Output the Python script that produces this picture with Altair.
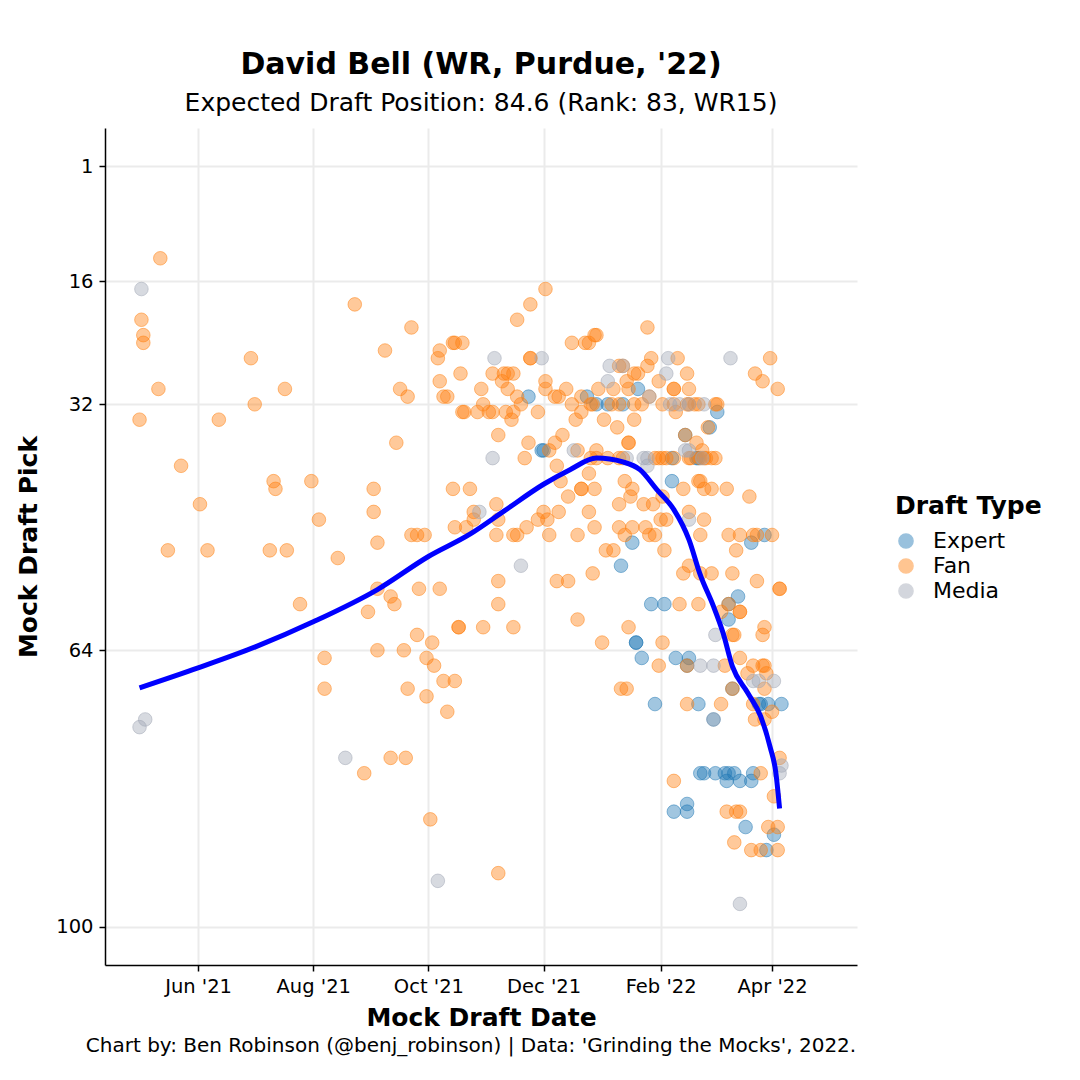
import altair as alt
import pandas as pd

TITLE = "David Bell (WR, Purdue, '22)"
SUBTITLE = "Expected Draft Position: 84.6 (Rank: 83, WR15)"
CAPTION = "Chart by: Ben Robinson (@benj_robinson) | Data: 'Grinding the Mocks', 2022."

type_order = ["Expert", "Fan", "Media"]
type_colors = ["#1f77b4", "#ff7f0e", "#a0a6b4"]

expert_dates = ["2021-11-23", "2021-12-24", "2021-12-29", "2022-01-04", "2022-01-12", "2021-11-30", "2021-12-01",
                "2022-01-11", "2022-01-20", "2022-02-14", "2022-02-07", "2022-02-21", "2022-02-07", "2022-01-17",
                "2022-01-27", "2022-02-03", "2022-01-19", "2022-01-19", "2022-01-22", "2022-02-09", "2022-02-16",
                "2022-02-15", "2022-01-29", "2022-02-21", "2022-02-15", "2022-02-15", "2022-02-08", "2022-03-03",
                "2022-02-27", "2022-02-20", "2022-03-28", "2022-03-21", "2022-03-14", "2022-03-09", "2022-03-09",
                "2022-03-25", "2022-03-26", "2022-03-30", "2022-04-06", "2022-03-01", "2022-02-22", "2022-02-24",
                "2022-03-02", "2022-03-07", "2022-03-09", "2022-03-12", "2022-03-22", "2022-03-08", "2022-03-15",
                "2022-03-21", "2022-03-18", "2022-04-02", "2022-03-29", "2022-03-11"]
expert_picks = [31, 31, 32, 32, 32, 38, 38,
                53, 30, 36, 39, 39, 42, 50,
                58, 58, 63, 63, 65, 65, 65,
                66, 71, 71, 84, 85, 85, 33,
                35, 39, 49, 50, 57, 58, 60,
                71, 71, 71, 71, 73, 80, 80,
                80, 80, 80, 80, 80, 81, 81,
                81, 87, 88, 90, 69]

fan_dates = [
    "2021-05-12", "2021-05-02", "2021-05-03", "2021-05-03", "2021-06-29", "2021-05-11", "2021-07-17", "2021-07-01",
    "2021-05-01", "2021-06-12", "2021-05-23", "2021-07-11", "2021-07-12", "2021-07-31", "2021-06-02", "2021-08-04",
    "2021-05-16", "2021-06-06", "2021-07-09", "2021-07-18", "2021-07-25", "2021-08-07", "2021-08-07",
    "2021-08-23", "2021-09-22", "2021-09-08", "2021-09-16", "2021-09-20", "2021-09-14", "2021-09-02", "2021-09-02",
    "2021-09-04", "2021-08-14", "2021-09-22", "2021-09-25", "2021-09-29", "2021-10-07", "2021-10-06", "2021-10-14",
    "2021-10-15", "2021-10-19", "2021-10-18", "2021-11-04", "2021-10-07", "2021-10-09", "2021-10-11", "2021-10-29",
    "2021-10-30", "2021-10-19", "2021-10-20", "2021-10-27", "2021-11-02", "2021-11-04", "2021-10-14", "2021-10-23",
    "2021-10-25", "2021-10-15", "2021-10-21", "2021-10-25", "2021-11-06", "2021-11-06", "2021-11-07",
    "2021-09-04", "2021-09-11", "2021-09-13", "2021-08-30", "2021-09-26", "2021-10-07", "2021-11-07", "2021-11-07",
    "2021-10-17", "2021-10-17", "2021-10-30", "2021-09-25", "2021-10-03", "2021-09-04", "2021-09-18", "2021-09-30",
    "2021-10-04", "2021-10-09", "2021-10-15", "2021-09-20", "2021-09-30", "2021-10-11", "2021-09-11", "2021-09-19",
    "2021-08-28", "2021-10-02", "2021-11-07",
    "2021-12-02", "2021-11-24", "2021-11-17", "2021-12-16", "2021-12-23", "2021-12-25", "2021-12-29", "2021-12-28",
    "2021-11-24", "2021-11-24", "2022-01-10", "2021-11-10", "2021-11-12", "2021-11-15", "2021-11-09", "2021-11-12",
    "2021-12-02", "2021-12-02", "2021-12-13", "2021-12-30", "2022-01-07", "2021-11-17", "2021-12-07", "2021-12-09",
    "2021-12-21", "2021-11-19", "2021-12-16", "2021-12-27", "2022-01-06", "2021-11-11", "2021-11-15", "2021-11-28",
    "2021-12-21", "2021-11-14", "2021-12-18", "2022-01-02", "2022-01-09", "2021-12-11", "2021-11-23", "2021-12-07",
    "2021-12-04", "2021-12-19", "2021-12-29", "2022-01-04", "2021-11-21", "2021-12-08", "2021-12-25", "2021-12-10",
    "2021-11-07", "2021-11-15", "2021-11-17", "2021-11-22", "2021-11-28", "2021-12-01", "2021-12-03", "2021-12-04",
    "2021-12-09", "2021-12-14", "2021-12-21", "2021-12-21", "2021-12-28", "2021-12-25", "2021-12-28", "2021-12-19",
    "2022-01-03", "2022-01-07", "2021-12-08", "2021-12-14", "2021-12-27", "2021-11-15", "2021-12-19", "2022-01-01",
    "2022-01-11",
    "2022-01-25", "2022-01-12", "2022-01-27", "2022-01-25", "2022-02-10", "2022-01-18", "2022-01-20", "2022-02-15",
    "2022-01-14", "2022-01-15", "2022-01-31", "2022-02-08", "2022-02-08", "2022-02-16", "2022-01-26",
    "2021-12-26", "2022-01-10", "2022-01-18", "2022-01-22", "2022-02-02", "2022-02-08", "2022-02-15", "2022-02-16",
    "2022-02-19", "2022-02-21",
    "2022-02-09", "2022-01-18", "2022-01-15", "2022-01-15", "2022-02-14", "2022-02-20",
    "2021-12-26", "2021-12-29", "2022-01-10", "2022-01-12", "2022-01-29", "2022-01-31", "2022-02-02", "2022-02-04",
    "2022-02-08", "2022-02-16", "2022-02-17",
    "2022-01-13", "2022-01-17", "2022-02-13", "2022-02-21", "2022-01-16", "2022-01-10", "2022-01-23", "2022-01-28",
    "2022-02-02", "2022-02-16", "2022-02-01", "2022-02-04", "2022-01-10", "2022-01-17", "2022-01-24", "2022-01-26",
    "2022-01-29", "2022-01-13", "2022-02-03",
    "2022-02-16", "2022-02-13", "2022-02-22", "2022-02-11", "2022-02-21", "2022-01-15", "2022-02-02", "2022-01-31",
    "2022-02-15", "2022-01-14", "2022-02-15", "2022-02-08",
    "2022-03-31", "2022-03-23", "2022-03-27", "2022-04-04", "2022-03-02", "2022-03-03", "2022-02-26", "2022-02-23",
    "2022-02-22", "2022-02-24", "2022-02-25", "2022-02-28", "2022-03-02", "2022-02-22", "2022-02-24", "2022-02-28",
    "2022-03-08", "2022-03-20", "2022-02-24", "2022-02-22", "2022-03-09", "2022-03-15", "2022-03-22", "2022-03-24",
    "2022-04-01", "2022-03-13",
    "2022-02-28", "2022-03-11", "2022-03-24", "2022-04-05", "2022-04-05", "2022-03-05", "2022-03-09", "2022-03-15",
    "2022-03-15", "2022-03-11", "2022-03-12", "2022-03-28", "2022-03-27", "2022-03-07", "2022-03-15", "2022-03-22",
    "2022-03-27", "2022-03-28", "2022-03-19", "2022-03-29", "2022-03-28", "2022-03-11", "2022-03-05", "2022-03-22",
    "2022-04-01", "2022-03-23", "2022-03-28", "2022-04-05", "2022-03-26", "2022-04-02", "2022-03-08", "2022-03-13",
    "2022-03-15", "2022-03-30", "2022-04-04", "2022-03-12", "2022-03-21", "2022-03-26", "2022-04-04",
]
fan_picks = [
    13, 21, 23, 24, 26, 30, 30, 32,
    34, 34, 40, 42, 43, 42, 45, 47,
    51, 51, 51, 51, 58, 65, 69,
    19, 22, 25, 30, 31, 37, 43, 46,
    50, 52, 49, 49, 49, 25, 26, 24,
    24, 24, 28, 28, 29, 31, 31, 30,
    32, 33, 33, 33, 33, 33, 43, 43,
    46, 48, 48, 47, 45, 49, 36,
    56, 57, 58, 59, 56, 56, 55, 58,
    61, 61, 61, 62, 63, 64, 64, 65,
    66, 68, 68, 69, 70, 72, 78, 78,
    80, 86, 93,
    17, 19, 21, 24, 24, 24, 23, 23,
    26, 26, 27, 28, 28, 28, 29, 30,
    29, 30, 30, 30, 30, 31, 31, 31,
    31, 32, 32, 32, 32, 33, 33, 33,
    33, 34, 34, 34, 35, 36, 37, 37,
    38, 38, 38, 39, 39, 40, 41, 42,
    47, 49, 49, 48, 47, 46, 47, 49,
    46, 44, 43, 43, 43, 46, 48, 49,
    51, 51, 55, 55, 54, 61, 60, 63,
    69,
    22, 27, 26, 27, 26, 28, 28, 28,
    29, 30, 29, 30, 30, 30, 31,
    32, 32, 32, 32, 32, 32, 32, 32,
    32, 32,
    33, 34, 37, 37, 36, 37,
    39, 39, 39, 39, 39, 39, 39, 39,
    39, 39, 39,
    42, 43, 43, 42, 44, 45, 45, 45,
    44, 46, 47, 47, 48, 48, 48, 49,
    49, 49, 51,
    53, 54, 54, 58, 58, 61, 63, 66,
    66, 69, 71, 81,
    26, 28, 29, 30, 32, 32, 35, 38,
    39, 39, 39, 39, 39, 42, 43, 43,
    43, 44, 47, 49, 49, 49, 49, 49,
    49, 51,
    54, 54, 55, 56, 56, 59, 58, 59,
    59, 62, 62, 61, 62, 66, 65, 66,
    66, 66, 67, 67, 69, 69, 71, 71,
    72, 73, 73, 78, 80, 83, 85, 85,
    85, 87, 87, 89, 90, 90, 90,
]

media_dates = ["2021-05-02", "2021-05-04", "2021-05-01", "2021-11-05", "2021-11-04", "2021-10-28", "2021-08-18",
               "2021-10-06", "2021-11-30", "2022-01-05", "2022-01-04", "2021-12-17", "2021-11-19", "2022-01-12",
               "2022-02-05", "2022-02-04", "2022-01-26", "2022-02-06", "2022-02-11", "2022-01-14", "2022-01-23",
               "2022-01-25", "2022-02-23", "2022-01-25", "2022-02-16", "2022-03-10", "2022-02-24", "2022-02-14",
               "2022-02-16", "2022-03-02", "2022-02-22", "2022-03-01", "2022-03-22", "2022-03-25", "2022-04-02",
               "2022-04-06", "2022-04-05", "2022-03-15", "2022-02-16", "2022-03-01"]
media_picks = [17, 73, 74, 26, 39, 46, 78,
               94, 26, 27, 29, 38, 53, 27,
               26, 28, 31, 32, 32, 39, 39,
               39, 39, 40, 47, 26, 32, 38,
               38, 62, 66, 66, 68, 68, 68,
               79, 80, 97, 32, 73]

smooth_dates = ["2021-05-01", "2021-06-01", "2021-07-02", "2021-08-01", "2021-09-04", "2021-10-01", "2021-10-23",
                "2021-11-10", "2021-12-01", "2021-12-15", "2021-12-29", "2022-01-12", "2022-01-21", "2022-01-30",
                "2022-02-08", "2022-02-16", "2022-02-22", "2022-03-01", "2022-03-06", "2022-03-11", "2022-03-19",
                "2022-03-26", "2022-03-31", "2022-04-03", "2022-04-05"]
smooth_picks = [68.9, 66.3, 63.5, 60.3, 56.1, 51.8, 48.9,
                45.9, 42.4, 40.5, 39.0, 39.5, 40.5, 43.1,
                45.7, 49.6, 54.2, 58.3, 61.7, 66.1, 69.5,
                72.6, 76.6, 79.9, 84.6]

tick_dates = [(2021, 6), (2021, 8), (2021, 10), (2021, 12), (2022, 2), (2022, 4)]
pick_ticks = [1, 16, 32, 64, 100]

rows = []
for t, ds, ps in [("Expert", expert_dates, expert_picks), ("Fan", fan_dates, fan_picks),
                  ("Media", media_dates, media_picks)]:
    for d, p in zip(ds, ps):
        rows.append({"date": d, "pick": p, "type": t})
points_df = pd.DataFrame(rows)
smooth_df = pd.DataFrame({"date": smooth_dates, "pick": smooth_picks})
caption_df = pd.DataFrame({"t": [CAPTION]})

W, H = 752, 837

x_scale = alt.Scale(type="utc",
                    domain=[alt.DateTime(year=2021, month=4, date=12, hours=17, utc=True),
                            alt.DateTime(year=2022, month=5, date=16, utc=True)])
y_scale = alt.Scale(domain=[-3.95, 104.95], reverse=True, nice=False, zero=False)

x_axis = alt.Axis(values=[alt.DateTime(year=y, month=m, date=1, utc=True) for y, m in tick_dates],
                  labelExpr="utcFormat(datum.value, \"%b '%y\")",
                  title="Mock Draft Date", labelPadding=6, titlePadding=10)
y_axis = alt.Axis(values=pick_ticks, title="Mock Draft Pick", labelPadding=6, titlePadding=14)

color_scale = alt.Scale(domain=type_order, range=type_colors)

points = alt.Chart(points_df).mark_circle(size=185, fillOpacity=0.42, strokeOpacity=0.5, strokeWidth=1).encode(
    x=alt.X("date:T", scale=x_scale, axis=x_axis),
    y=alt.Y("pick:Q", scale=y_scale, axis=y_axis),
    color=alt.Color("type:N", scale=color_scale,
                    legend=alt.Legend(title="Draft Type", orient="none", legendX=790, legendY=366,
                                      titleFontSize=25, titleFontWeight="bold", titleFont="DejaVu Sans",
                                      labelFontSize=22, labelFont="DejaVu Sans", symbolSize=200,
                                      symbolType="circle", symbolOpacity=0.45, rowPadding=3,
                                      titlePadding=11, labelOffset=16, padding=0, titleColor="black",
                                      labelColor="black")),
    stroke=alt.Stroke("type:N", scale=color_scale, legend=None),
)

line = alt.Chart(smooth_df).mark_line(color="#0000ff", strokeWidth=5, interpolate="monotone").encode(
    x=alt.X("date:T", scale=x_scale),
    y=alt.Y("pick:Q", scale=y_scale),
)

caption = alt.Chart(caption_df).mark_text(font="DejaVu Sans", fontSize=20, color="black", align="center",
                                          baseline="middle").encode(
    text="t:N", x=alt.value(366), y=alt.value(H + 81)
)

chart = alt.layer(points, line, caption).properties(
    width=W, height=H,
    title=alt.TitleParams(text=TITLE, subtitle=SUBTITLE, anchor="middle", offset=12, subtitlePadding=11),
    autosize=alt.AutoSizeParams(type="none"),
    padding={"left": 97, "top": 120, "right": 210, "bottom": 95},
).configure_view(stroke=None).configure_axis(
    domainColor="black", domainWidth=1.5, tickColor="black", tickWidth=1.5, tickSize=6,
    labelFont="DejaVu Sans", labelFontSize=19.5, labelColor="black",
    titleFont="DejaVu Sans", titleFontSize=25, titleFontWeight="bold", titleColor="black",
    gridColor="#ebebeb", gridWidth=2,
).configure_title(
    font="DejaVu Sans", fontSize=30, fontWeight="bold", color="black",
    subtitleFont="DejaVu Sans", subtitleFontSize=25, subtitleColor="black",
)

chart.save("out.html", embed_options={"renderer": "svg", "actions": False})
